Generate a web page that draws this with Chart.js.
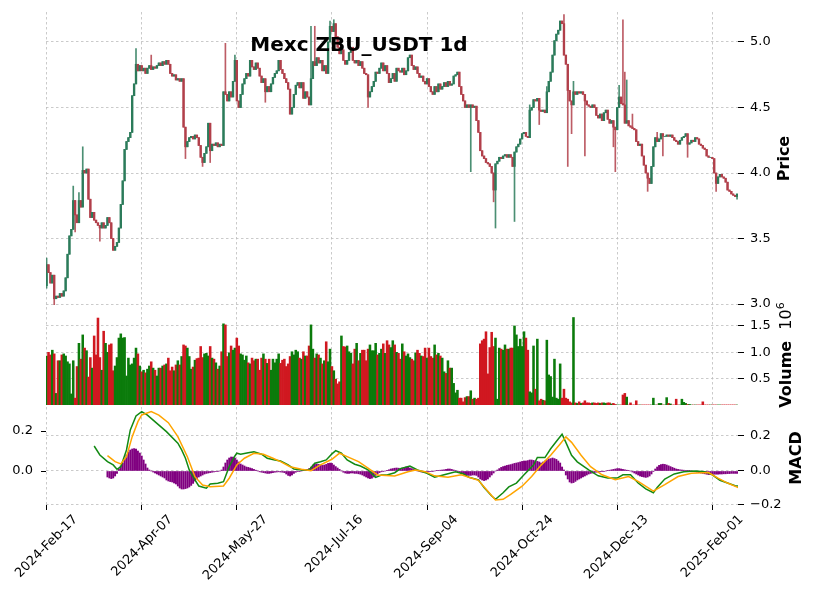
<!DOCTYPE html>
<html>
<head>
<meta charset="utf-8">
<script src="https://cdn.jsdelivr.net/npm/chart.js@4.4.1/dist/chart.umd.min.js"></script>
<style>
  html, body { margin: 0; padding: 0; background: #fff; }
  #chart { display: block; }
</style>
</head>
<body>
<canvas id="chart" width="816" height="600" style="width:816px;height:600px"></canvas>
<script>
const chartTitle = 'Mexc ZBU_USDT 1d';
const dateLabels = ['2024-Feb-17', '2024-Apr-07', '2024-May-27', '2024-Jul-16', '2024-Sep-04', '2024-Oct-24', '2024-Dec-13', '2025-Feb-01'];
const dayTicks = [0, 50, 100, 150, 200, 250, 300, 350];
const priceTicks = [3.0, 3.5, 4.0, 4.5, 5.0];
const volumeTicks = [0.5, 1.0, 1.5];
const macdTicks = [-0.2, 0.0, 0.2];
const histTicks = [0.0, 0.2];

// daily closes, day 0 = 2024-02-17
const firstOpen = 3.14;
const closes = [
  3.30,3.24,3.16,3.22,3.04,3.06,3.05,3.08,3.06,3.10,
  3.20,3.38,3.52,3.57,3.79,3.68,3.62,3.79,3.74,4.02,
  4.00,4.03,3.80,3.66,3.70,3.64,3.62,3.60,3.58,3.62,
  3.58,3.60,3.66,3.62,3.50,3.41,3.44,3.47,3.58,3.76,
  3.94,4.18,4.24,4.27,4.31,4.59,4.68,4.83,4.78,4.82,
  4.78,4.80,4.76,4.80,4.82,4.79,4.81,4.80,4.82,4.84,
  4.82,4.85,4.83,4.86,4.83,4.76,4.74,4.75,4.71,4.72,
  4.70,4.72,4.35,4.20,4.24,4.27,4.28,4.26,4.29,4.27,
  4.21,4.12,4.08,4.15,4.20,4.38,4.17,4.22,4.21,4.23,
  4.20,4.22,4.21,4.62,4.60,4.55,4.62,4.58,4.70,4.86,
  4.55,4.50,4.60,4.68,4.72,4.76,4.74,4.86,4.81,4.79,
  4.84,4.80,4.74,4.69,4.72,4.62,4.66,4.62,4.68,4.73,
  4.76,4.78,4.86,4.79,4.76,4.72,4.69,4.64,4.45,4.50,
  4.60,4.67,4.69,4.65,4.69,4.57,4.62,4.58,4.52,4.72,
  4.85,4.82,4.88,4.84,4.86,4.78,4.82,4.76,5.00,5.12,
  5.08,5.14,5.04,4.96,4.91,4.94,4.86,4.83,4.86,4.92,
  4.96,4.86,4.84,4.86,4.82,4.85,4.80,4.76,4.75,4.58,
  4.62,4.66,4.70,4.77,4.76,4.80,4.84,4.78,4.82,4.76,
  4.69,4.72,4.76,4.70,4.80,4.78,4.77,4.80,4.75,4.78,
  4.88,4.90,4.82,4.79,4.81,4.76,4.73,4.74,4.70,4.68,
  4.72,4.66,4.62,4.60,4.66,4.62,4.68,4.64,4.66,4.69,
  4.66,4.70,4.67,4.68,4.74,4.75,4.77,4.66,4.60,4.55,
  4.50,4.52,4.50,4.52,4.50,4.51,4.40,4.31,4.17,4.13,
  4.11,4.08,4.07,4.05,4.00,3.87,4.07,4.09,4.12,4.11,
  4.13,4.14,4.12,4.14,4.12,4.05,4.16,4.20,4.22,4.26,
  4.30,4.31,4.28,4.27,4.48,4.50,4.56,4.55,4.57,4.48,
  4.47,4.48,4.46,4.62,4.70,4.77,4.90,5.01,5.06,5.09,
  5.16,5.14,4.90,4.83,4.63,4.55,4.52,4.62,4.60,4.62,
  4.61,4.62,4.60,4.55,4.52,4.51,4.50,4.52,4.50,4.44,
  4.42,4.45,4.40,4.46,4.48,4.41,4.38,4.40,4.35,4.33,
  4.50,4.58,4.53,4.52,4.38,4.40,4.36,4.35,4.34,4.33,
  4.24,4.21,4.22,4.13,4.06,4.00,3.96,3.92,4.05,4.20,
  4.27,4.24,4.26,4.30,4.28,4.28,4.29,4.28,4.29,4.27,
  4.25,4.24,4.22,4.25,4.27,4.28,4.30,4.22,4.23,4.25,
  4.24,4.27,4.26,4.22,4.21,4.19,4.18,4.13,4.12,4.12,
  4.11,4.00,3.92,3.97,3.99,3.97,3.96,3.93,3.87,3.86,
  3.84,3.83,3.82,3.84
];
// visible wicks beyond the body: [day, price]
const wickHighs = [[0,3.35],[14,3.90],[17,3.85],[19,4.20],[47,4.95],[55,4.90],[94,4.99],[99,4.90],
  [139,5.12],[141,5.12],[149,5.16],[151,5.17],[254,4.52],[263,4.66],[272,5.21],[277,4.70],
  [301,4.67],[303,5.17],[304,4.77],[305,4.71],[308,4.45],[321,4.31]];
const wickLows = [[0,3.12],[4,2.98],[15,3.55],[28,3.48],[73,4.11],[82,4.05],[86,4.08],[101,4.50],
  [115,4.54],[128,4.45],[169,4.50],[223,4.01],[235,3.78],[236,3.58],[246,3.63],[259,4.37],
  [274,4.05],[276,4.30],[283,4.13],[298,4.20],[299,4.01],[316,3.86],[324,4.13],[337,4.12],
  [352,3.86],[363,3.80]];

// volume, millions
const volumes = [
  0.93,1.00,0.95,1.04,0.97,0.22,0.84,0.84,0.95,0.97,
  0.93,0.82,0.78,0.21,0.84,0.13,0.73,1.17,0.87,1.33,
  1.08,1.03,0.53,0.90,0.70,1.31,0.95,1.65,0.90,0.66,
  1.40,1.17,1.00,1.14,1.16,0.65,0.74,0.90,1.27,1.35,
  1.27,1.28,0.55,0.89,0.76,0.78,0.89,1.08,0.97,0.74,
  0.63,0.66,0.61,0.68,0.74,0.82,0.70,0.66,0.55,0.70,
  0.70,0.74,0.76,0.78,0.89,0.65,0.72,0.65,0.76,0.84,
  0.76,0.92,1.14,1.12,1.08,0.92,0.68,0.72,0.85,0.88,
  0.89,1.11,0.90,0.97,0.98,0.93,1.11,0.89,0.87,0.80,
  0.68,0.74,1.01,1.54,1.52,0.92,0.99,1.12,1.04,1.08,
  1.27,1.12,0.97,0.95,0.85,0.93,0.80,0.78,0.89,0.84,
  0.87,0.87,0.66,0.89,0.97,0.87,0.79,0.87,0.66,0.87,
  0.80,0.87,0.97,0.79,0.85,0.87,0.73,0.78,0.92,1.01,
  0.95,1.04,1.01,0.89,0.87,1.01,0.93,0.93,1.12,1.52,
  1.06,0.89,0.97,0.95,0.89,0.78,0.84,1.20,0.82,1.06,
  0.73,0.65,0.49,0.40,0.44,1.31,1.11,1.10,1.12,1.01,
  0.98,0.78,1.06,1.17,0.84,0.98,1.04,1.04,0.84,1.06,
  1.14,1.03,1.03,1.17,0.95,0.98,1.06,1.16,0.98,1.22,
  1.14,1.09,1.22,1.14,1.00,0.98,0.87,1.16,1.01,0.93,
  0.97,0.90,0.87,0.84,0.99,1.04,0.98,0.93,0.92,1.08,
  0.89,1.08,0.92,0.89,1.14,0.95,0.98,0.93,0.89,0.63,
  0.60,0.84,0.70,0.70,0.41,0.23,0.28,0.13,0.13,0.06,
  0.14,0.16,0.16,0.27,0.11,0.13,0.11,0.13,1.16,1.22,
  1.25,1.39,0.59,1.09,1.38,1.11,1.27,0.11,1.08,1.06,
  1.04,1.14,1.06,1.06,1.08,1.08,1.50,1.33,1.11,1.25,
  1.11,1.39,1.27,1.04,0.25,0.23,1.12,0.30,1.25,0.08,
  0.11,0.09,0.08,1.23,0.57,0.54,0.15,0.87,0.13,0.11,
  0.78,0.13,0.30,0.13,0.11,0.06,0.04,1.66,0.04,0.03,
  0.06,0.03,0.04,0.08,0.04,0.04,0.03,0.04,0.04,0.03,
  0.04,0.03,0.04,0.04,0.03,0.04,0.04,0.02,0.03,0.01,
  0,0,0,0.19,0.22,0.15,0,0.04,0,0,
  0.08,0,0,0,0,0,0,0,0,0.13,
  0,0,0.03,0.03,0,0,0.14,0.03,0.02,0,
  0,0.11,0,0,0.11,0.05,0.03,0.01,0.01,0,
  0,0,0,0,0,0.06,0,0,0,0,
  0,0,0,0,0,0,0,0,0,0,0,0,0,0
];

// MACD histogram, one value per day from histStart
const histStart = 32;
const histValues = [
  -0.03,-0.035,-0.038,-0.035,-0.025,-0.012,0.01,0.025,0.04,0.06,
  0.08,0.095,0.105,0.11,0.112,0.11,0.1,0.09,0.075,0.055,
  0.035,0.015,0.005,0.0,-0.005,-0.01,-0.015,-0.02,-0.025,-0.03,
  -0.035,-0.045,-0.05,-0.053,-0.055,-0.06,-0.065,-0.075,-0.085,-0.09,
  -0.09,-0.088,-0.085,-0.08,-0.072,-0.062,-0.05,-0.04,-0.03,-0.025,
  -0.02,-0.015,-0.012,-0.01,-0.008,-0.006,-0.004,-0.003,-0.002,0.0,
  0.005,0.02,0.04,0.055,0.065,0.07,0.07,0.065,0.055,0.045,
  0.035,0.03,0.025,0.02,0.018,0.015,0.012,0.008,0.004,0.0,
  -0.004,-0.006,-0.008,-0.01,-0.012,-0.012,-0.01,-0.008,-0.006,-0.005,
  -0.004,-0.005,-0.006,-0.008,-0.015,-0.022,-0.025,-0.02,-0.012,-0.006,
  -0.003,-0.002,0.0,0.002,0.004,0.008,0.012,0.02,0.03,0.035,
  0.035,0.033,0.03,0.028,0.03,0.033,0.038,0.04,0.038,0.03,
  0.022,0.015,0.008,0.0,-0.006,-0.01,-0.012,-0.012,-0.01,-0.01,
  -0.012,-0.012,-0.014,-0.016,-0.02,-0.025,-0.03,-0.035,-0.038,-0.036,
  -0.03,-0.022,-0.015,-0.008,-0.004,-0.002,0.0,0.003,0.006,0.01,
  0.012,0.014,0.015,0.014,0.012,0.015,0.018,0.02,0.018,0.015,
  0.012,0.008,0.004,0.0,-0.003,-0.005,-0.006,-0.006,-0.005,-0.004,
  -0.003,-0.002,0.0,0.002,0.003,0.004,0.005,0.006,0.008,0.01,
  0.01,0.008,0.005,0.002,-0.004,-0.008,-0.012,-0.015,-0.018,-0.02,
  -0.022,-0.022,-0.02,-0.02,-0.022,-0.03,-0.04,-0.045,-0.048,-0.045,
  -0.04,-0.03,-0.02,-0.01,0.0,0.005,0.012,0.018,0.022,0.025,
  0.028,0.03,0.032,0.035,0.038,0.04,0.042,0.045,0.048,0.05,
  0.05,0.052,0.055,0.055,0.053,0.05,0.048,0.045,0.04,0.045,
  0.05,0.055,0.06,0.062,0.065,0.062,0.058,0.05,0.04,0.02,
  0.005,-0.02,-0.04,-0.055,-0.06,-0.058,-0.052,-0.045,-0.04,-0.035,
  -0.03,-0.025,-0.02,-0.015,-0.012,-0.01,-0.008,-0.006,-0.005,-0.004,
  -0.003,-0.002,0.0,0.002,0.004,0.006,0.008,0.01,0.012,0.012,
  0.01,0.008,0.006,0.004,0.002,0.0,-0.005,-0.01,-0.015,-0.02,
  -0.025,-0.028,-0.03,-0.032,-0.03,-0.025,-0.015,-0.002,0.01,0.02,
  0.028,0.032,0.034,0.033,0.03,0.026,0.022,0.018,0.014,0.01,
  0.008,0.006,0.005,0.004,0.003,0.002,0.001,0.0,-0.002,-0.004,
  -0.006,-0.008,-0.01,-0.012,-0.014,-0.016,-0.018,-0.018,-0.017,-0.016,
  -0.016,-0.016,-0.015,-0.015,-0.014,-0.014,-0.013,-0.013,-0.012,-0.012,-0.012,-0.012
];

// MACD and signal lines, read at these days
const macdDays = [25,28,32,35,37,39,42,44,47,50,53,58,63,69,71,73,75,78,80,84,86,90,93,96,99,100,102,106,109,113,116,120,123,127,130,134,138,141,144,147,150,152,155,158,162,165,169,173,176,179,183,186,191,195,200,204,209,215,219,222,227,230,234,236,240,243,247,251,256,258,262,265,269,271,273,276,279,285,290,295,300,303,307,311,315,319,321,325,330,335,341,346,350,354,358,362,364];
const macdValues = [0.141,0.089,0.05,0.031,0.006,0.021,0.118,0.234,0.315,0.34,0.32,0.272,0.224,0.157,0.118,0.07,0.002,-0.056,-0.091,-0.104,-0.079,-0.075,-0.066,0.021,0.083,0.099,0.093,0.102,0.108,0.093,0.07,0.06,0.054,0.031,0.008,0.002,0.002,0.041,0.05,0.06,0.095,0.114,0.099,0.06,0.035,0.025,0.002,-0.041,-0.027,-0.027,-0.014,0.01,0.025,0.002,-0.017,-0.04,-0.026,-0.008,-0.02,-0.04,-0.055,-0.1,-0.149,-0.168,-0.13,-0.096,-0.074,-0.026,0.03,0.074,0.074,0.125,0.181,0.209,0.162,0.087,0.049,0.002,-0.032,-0.045,-0.045,-0.026,-0.026,-0.074,-0.108,-0.13,-0.1,-0.051,-0.021,-0.008,-0.004,-0.008,-0.026,-0.058,-0.074,-0.089,-0.092];
const signalDays = [32,36,39,42,45,48,50,55,59,64,69,74,78,82,86,93,96,100,104,109,114,119,123,128,134,139,144,150,154,158,164,169,174,183,190,194,199,204,211,218,227,232,236,240,244,250,255,260,265,270,273,276,281,286,292,299,306,311,319,325,332,339,348,353,358,364];
const signalValues = [0.085,0.05,0.037,0.079,0.195,0.282,0.321,0.34,0.32,0.276,0.195,0.079,-0.037,-0.085,-0.095,-0.091,-0.046,0.031,0.07,0.099,0.093,0.07,0.05,0.021,0.006,-0.002,0.031,0.064,0.099,0.079,0.05,0.012,-0.027,-0.033,-0.008,0.002,-0.008,-0.032,-0.04,-0.026,-0.058,-0.121,-0.172,-0.168,-0.14,-0.092,-0.036,0.03,0.087,0.153,0.194,0.162,0.087,0.021,-0.026,-0.055,-0.036,-0.064,-0.121,-0.083,-0.036,-0.017,-0.013,-0.045,-0.074,-0.102];

const upCandle = '#2b7b5a', downCandle = '#b13f4a';
const upVolume = '#0b7b0b', downVolume = '#d01820';

const opens = closes.map((c, i) => i === 0 ? firstOpen : closes[i - 1]);
const isUp = closes.map((c, i) => c >= opens[i]);
const highOf = {}, lowOf = {};
wickHighs.forEach(([d, v]) => { highOf[d] = v; });
wickLows.forEach(([d, v]) => { lowOf[d] = v; });

const bodyData = closes.map((c, i) => ({ x: i, y: [opens[i], c] }));
const wickData = closes.map((c, i) => ({
  x: i,
  y: [Math.min(opens[i], c, lowOf[i] ?? Infinity), Math.max(opens[i], c, highOf[i] ?? -Infinity)]
}));
const volumeData = volumes.map((v, i) => ({ x: i, y: v }));
const histData = histValues.map((v, i) => ({ x: histStart + i, y: v }));
const macdData = macdDays.map((d, i) => ({ x: d, y: macdValues[i] }));
const signalData = signalDays.map((d, i) => ({ x: d, y: signalValues[i] }));

Chart.defaults.font.family = '"DejaVu Sans", sans-serif';
Chart.defaults.font.size = 13;
Chart.defaults.color = '#000';

const gridGray = '#bdbdbd';
const fmt = v => v.toFixed(1).replace('-', '\u2212');

function noPadY(s, width) {
  s.width = width;
  s.paddingTop = 0;
  s.paddingBottom = 0;
}

function rightAxis(ticks, min, max, weight) {
  return {
    type: 'linear', position: 'right', stack: 'right', stackWeight: weight, min, max,
    grid: { color: gridGray, lineWidth: 0.8, tickColor: '#000', tickLength: 6, tickWidth: 1, tickBorderDash: [] },
    border: { display: false, dash: [2.5, 2.5] },
    ticks: { padding: 6, callback: v => fmt(v) },
    afterBuildTicks: s => { s.ticks = ticks.map(v => ({ value: v })); },
    afterFit: s => noPadY(s, 78)
  };
}

const panelLabels = {
  id: 'panelLabels',
  afterDraw(chart) {
    const ctx = chart.ctx;
    const s = chart.scales;
    ctx.save();
    ctx.fillStyle = '#000';
    ctx.textBaseline = 'middle';
    ctx.textAlign = 'center';
    ctx.font = 'bold 20px "DejaVu Sans"';
    ctx.fillText(chartTitle, 359, 46);

    const vertical = (x, y, parts) => {
      ctx.save();
      ctx.translate(x, y);
      ctx.rotate(-Math.PI / 2);
      ctx.textAlign = 'left';
      let total = 0;
      parts.forEach(p => { ctx.font = p.font; p.w = ctx.measureText(p.text).width; total += p.w; });
      let cx = -total / 2;
      parts.forEach(p => { ctx.font = p.font; ctx.fillText(p.text, cx, p.dy || 0); cx += p.w; });
      ctx.restore();
    };
    const bold = 'bold 16px "DejaVu Sans"';
    vertical(785, (s.yp.top + s.yp.bottom) / 2, [{ text: 'Price', font: bold }]);
    vertical(787, (s.yv.top + s.yv.bottom) / 2, [
      { text: 'Volume  ', font: bold },
      { text: '10', font: '16px "DejaVu Sans"' },
      { text: '6', font: '11px "DejaVu Sans"', dy: -6 }
    ]);
    vertical(797, (s.ym.top + s.ym.bottom) / 2 + 3, [{ text: 'MACD', font: bold }]);
    ctx.restore();
  }
};

new Chart(document.getElementById('chart'), {
  type: 'bar',
  data: {
    datasets: [
      { type: 'line', data: signalData, yAxisID: 'ym', borderColor: '#ffa500', borderWidth: 1.5, pointRadius: 0, tension: 0, order: 0 },
      { type: 'line', data: macdData, yAxisID: 'ym', borderColor: '#138a13', borderWidth: 1.5, pointRadius: 0, tension: 0, order: 1 },
      { data: bodyData, yAxisID: 'yp', grouped: false, barThickness: 1.7, order: 2,
        backgroundColor: isUp.map(u => u ? upCandle : downCandle) },
      { data: wickData, yAxisID: 'yp', grouped: false, barThickness: 1, order: 3,
        backgroundColor: isUp.map(u => u ? 'rgba(43,123,90,0.85)' : 'rgba(177,63,74,0.85)') },
      { data: volumeData, yAxisID: 'yv', grouped: false, barThickness: 1.9, order: 4,
        backgroundColor: isUp.map(u => u ? upVolume : downVolume) },
      { data: histData, yAxisID: 'yh', grouped: false, barThickness: 1.3, order: 5, backgroundColor: '#800080' }
    ]
  },
  options: {
    responsive: false,
    animation: false,
    layout: { padding: { top: 12, right: 0, left: 0, bottom: 0 } },
    plugins: { legend: { display: false }, tooltip: { enabled: false } },
    scales: {
      x: {
        type: 'linear', min: -0.32, max: 363.5, offset: false,
        grid: { color: gridGray, lineWidth: 0.8, offset: false, tickColor: '#000', tickLength: 5, tickWidth: 1, tickBorderDash: [] },
        border: { display: false, dash: [2.5, 2.5] },
        ticks: { autoSkip: false, minRotation: 45, maxRotation: 45, labelOffset: 29, padding: 2,
          callback: (v, i) => dateLabels[i] },
        afterBuildTicks: s => { s.ticks = dayTicks.map(v => ({ value: v })); },
        afterFit: s => { s.height = 95; s.paddingLeft = 0; s.paddingRight = 0; }
      },
      yh: {
        type: 'linear', position: 'left', min: -0.17, max: 2.295,
        grid: { drawOnChartArea: false, tickColor: '#000', tickLength: 5, tickWidth: 1, tickBorderDash: [] },
        border: { display: false },
        ticks: { padding: 8, callback: v => fmt(v) },
        afterBuildTicks: s => { s.ticks = histTicks.map(v => ({ value: v })); },
        afterFit: s => noPadY(s, 46)
      },
      yp: rightAxis(priceTicks, 2.9924, 5.229, 293),
      yv: rightAxis(volumeTicks, 0, 1.8975, 100),
      ym: rightAxis(macdTicks, -0.2012, 0.3786, 100)
    }
  },
  plugins: [panelLabels]
});
</script>
</body>
</html>
